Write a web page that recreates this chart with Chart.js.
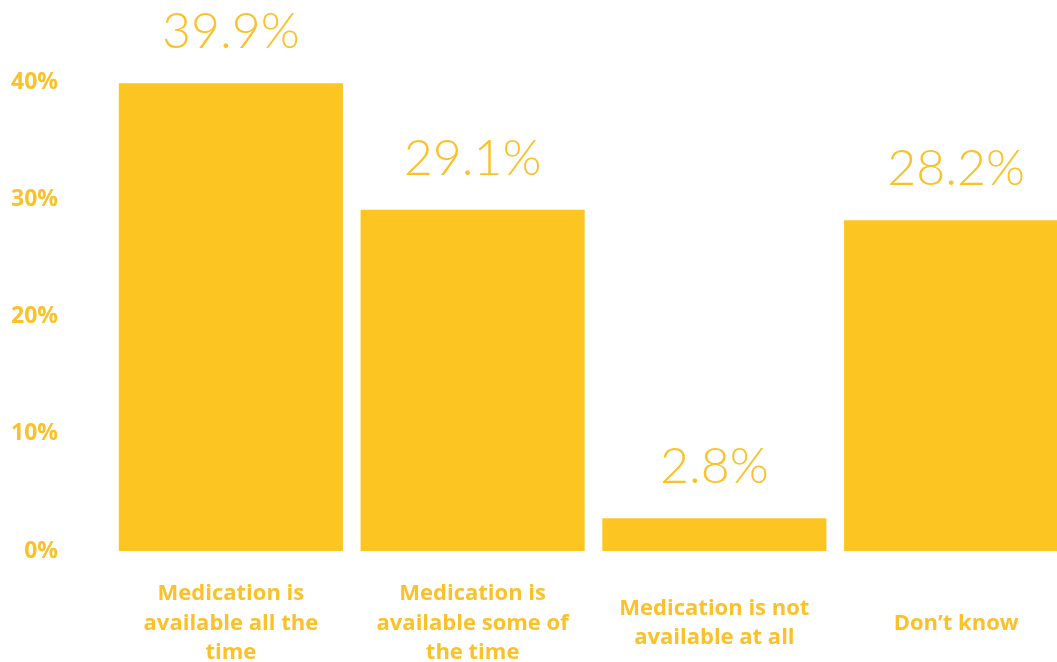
<!DOCTYPE html>
<html lang="en">
<head>
    <meta charset="UTF-8">
    <title>Medication availability</title>
    <script src="https://cdn.jsdelivr.net/npm/chart.js"></script>
    <style>
        body {
            margin: 0;
            background: #ffffff;
            overflow: hidden;
        }
        #grafica {
            width: 1077px;
            height: 662px;
        }
    </style>
</head>
<body>
    <div id="grafica">
        <canvas id="myChart" width="1077" height="662"></canvas>
    </div>

    <script>
        // Datos del gráfico
        const categorias = [
            ['Medication is', 'available all the', 'time'],
            ['Medication is', 'available some of', 'the time'],
            ['Medication is not', 'available at all'],
            'Don\u2019t know'
        ];
        const valores = [39.9, 29.1, 2.8, 28.2];
        const yMax = 40;
        const yPaso = 10;

        const amarillo = '#FDC521';
        const textoAmarillo = '#FBC12A';

        // Etiquetas de valor encima de cada barra
        const etiquetasValor = {
            id: 'etiquetasValor',
            afterDatasetsDraw(chart) {
                const ctx = chart.ctx;
                const meta = chart.getDatasetMeta(0);
                ctx.save();
                ctx.font = '300 50px Lato';
                ctx.fillStyle = textoAmarillo;
                ctx.textAlign = 'center';
                ctx.textBaseline = 'alphabetic';
                meta.data.forEach((bar, i) => {
                    ctx.fillText(valores[i].toFixed(1) + '%', bar.x, bar.y - 35);
                });
                ctx.restore();
            }
        };

        const ctx = document.getElementById('myChart').getContext('2d');
        new Chart(ctx, {
            type: 'bar',
            data: {
                labels: categorias,
                datasets: [{
                    data: valores,
                    backgroundColor: amarillo,
                    borderWidth: 0,
                    barPercentage: 0.927,
                    categoryPercentage: 1
                }]
            },
            options: {
                responsive: false,
                animation: false,
                layout: { padding: { top: 82, left: 0, right: 0, bottom: 0 } },
                plugins: {
                    legend: { display: false },
                    tooltip: { enabled: false }
                },
                scales: {
                    x: {
                        grid: { display: false },
                        border: { display: false },
                        ticks: {
                            color: textoAmarillo,
                            font: { family: 'Open Sans', weight: 'bold', size: 22, lineHeight: 1.34 },
                            padding: 35,
                            maxRotation: 0,
                            autoSkip: false,
                            crossAlign: 'center'
                        },
                        afterFit(scale) { scale.height = 111; }
                    },
                    y: {
                        min: 0,
                        max: yMax,
                        grid: { display: false },
                        border: { display: false },
                        ticks: {
                            stepSize: yPaso,
                            color: textoAmarillo,
                            font: { family: 'Open Sans', weight: 'bold', size: 23 },
                            padding: 44,
                            callback: v => v + '%'
                        },
                        afterFit(scale) { scale.width = 110; }
                    }
                }
            },
            plugins: [etiquetasValor]
        });
    </script>
</body>
</html>
